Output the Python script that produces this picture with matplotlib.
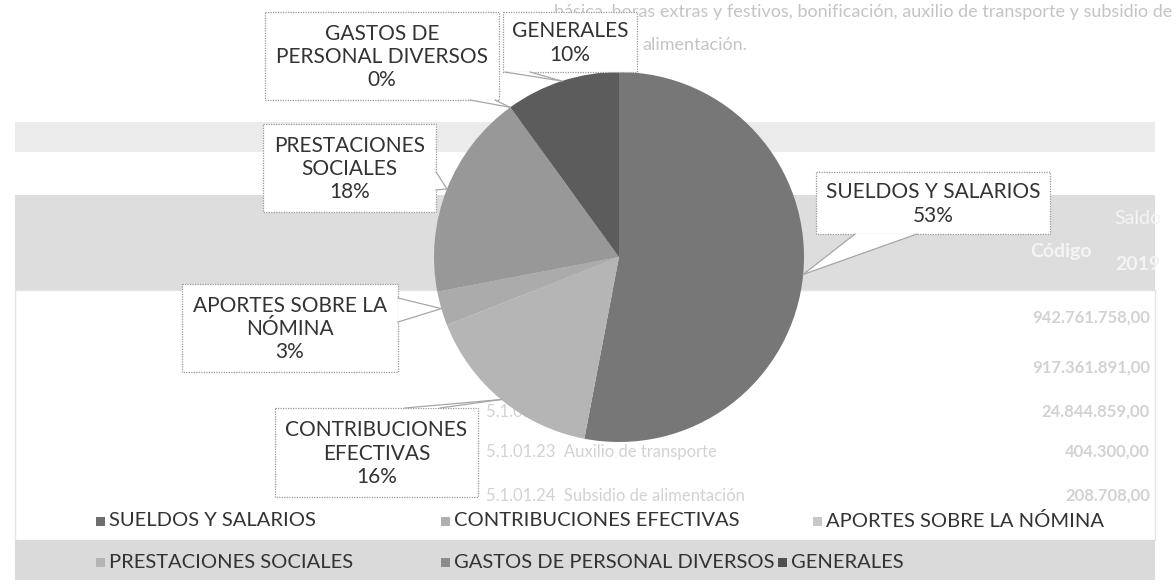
import numpy as np
import matplotlib.pyplot as plt
from matplotlib.patches import Rectangle, Polygon

plt.rcParams['font.family'] = ['Lato', 'DejaVu Sans']

# Gastos de personal por grupo (%)
grupos = ['SUELDOS Y SALARIOS', 'CONTRIBUCIONES EFECTIVAS', 'APORTES SOBRE LA NÓMINA',
          'PRESTACIONES SOCIALES', 'GASTOS DE PERSONAL DIVERSOS', 'GENERALES']
porcentajes = [53, 16, 3, 18, 0, 10]
etiquetas = ['SUELDOS Y SALARIOS', 'CONTRIBUCIONES\nEFECTIVAS', 'APORTES SOBRE LA\nNÓMINA',
             'PRESTACIONES\nSOCIALES', 'GASTOS DE\nPERSONAL DIVERSOS', 'GENERALES']
colores = ['#777777', '#b5b5b5', '#ababab', '#989898', '#828282', '#5c5c5c']
colores_leyenda = ['#6e6e6e', '#b0b0b0', '#c8c8c8', '#b4b4b4', '#8c8c8c', '#505050']

# cajas de las etiquetas (x0, y0, x1, y1) y base de la flecha, en pixeles
cajas = [(816, 172, 1050, 234), (275, 408, 478, 497), (182, 284, 398, 372),
         (263, 124, 436, 212), (265, 12, 499, 100), (503, 12, 637, 72)]
bases = [((855, 234), (917, 234)), ((405, 408), (440, 408)), ((398, 298), (398, 322)),
         ((436, 172), (436, 190)), ((470, 100), (495, 100)), ((505, 72), (530, 72))]
pos_leyenda = [(100, 521), (445, 521), (817, 521), (100, 562), (445, 562), (782, 562)]

W, H = 1176, 585
fig = plt.figure(figsize=(W / 100, H / 100), dpi=100)

# fondo: la pagina escaneada que queda detras del grafico
bg = fig.add_axes([0, 0, 1, 1], zorder=0)
bg.set_xlim(0, W)
bg.set_ylim(H, 0)
bg.axis('off')
gris_txt = '#c4c4c4'
bg.text(1172, 12, 'básica, horas extras y festivos, bonificación, auxilio de transporte y subsidio de',
        ha='right', va='center', fontsize=13, color=gris_txt)
bg.text(642, 45, 'alimentación.', ha='left', va='center', fontsize=13, color=gris_txt)
bg.add_patch(Rectangle((15, 122), 1140, 30, facecolor='#ebebeb', edgecolor='none'))
bg.add_patch(Rectangle((15, 195), 1140, 95, facecolor='#dddddd', edgecolor='none'))
bg.text(1030, 252, 'Código', ha='left', va='center', fontsize=14, color='#f4f4f4', fontweight='bold')
bg.text(1138, 218, 'Saldo', ha='center', va='center', fontsize=14, color='#f4f4f4')
bg.text(1138, 264, '2019', ha='center', va='center', fontsize=14, color='#f4f4f4', fontweight='bold')
bg.add_patch(Rectangle((15, 290), 1140, 250, facecolor='none', edgecolor='#e4e4e4', lw=1))
filas = [('5.1.01  SUELDOS Y SALARIOS', '942.761.758,00', 318),
         ('5.1.01.01  Sueldos', '917.361.891,00', 368),
         ('5.1.01.10  Prima técnica', '24.844.859,00', 412),
         ('5.1.01.23  Auxilio de transporte', '404.300,00', 452),
         ('5.1.01.24  Subsidio de alimentación', '208.708,00', 496)]
for nombre, saldo, y in filas:
    bg.text(486, y, nombre, ha='left', va='center', fontsize=12, color='#d2d2d2')
    bg.text(1150, y, saldo, ha='right', va='center', fontsize=12, color='#d2d2d2', fontweight='bold')
bg.add_patch(Rectangle((15, 540), 1140, 40, facecolor='#dadada', edgecolor='none'))

# torta
r_px = 185
cx, cy = 619, 257
ax = fig.add_axes([(cx - r_px) / W, (H - cy - r_px) / H, 2 * r_px / W, 2 * r_px / H], zorder=1)
wedges, _ = ax.pie(porcentajes, colors=colores, startangle=90, counterclock=False,
                   radius=1, wedgeprops=dict(linewidth=0))
ax.set_xlim(-1, 1)
ax.set_ylim(-1, 1)
ax.set_aspect('equal')
ax.axis('off')

# etiquetas con cajas tipo globo
top = fig.add_axes([0, 0, 1, 1], zorder=2)
top.set_xlim(0, W)
top.set_ylim(H, 0)
top.axis('off')
for w, nombre, p, caja, base in zip(wedges, etiquetas, porcentajes, cajas, bases):
    ang = np.deg2rad((w.theta1 + w.theta2) / 2)
    disp = ax.transData.transform((np.cos(ang), np.sin(ang)))
    tx, ty = top.transData.inverted().transform(disp)
    x0, y0, x1, y1 = caja
    top.add_patch(Rectangle((x0, y0), x1 - x0, y1 - y0, facecolor='white',
                            edgecolor='#9a9a9a', lw=0.9, linestyle=(0, (1, 1))))
    top.add_patch(Polygon([base[0], (tx, ty), base[1]], closed=True,
                          facecolor='white', edgecolor='none'))
    for b in base:
        top.plot([b[0], tx], [b[1], ty], color='#a6a6a6', lw=0.9)
    top.text((x0 + x1) / 2, (y0 + y1) / 2 + 1, f'{nombre}\n{p}%', ha='center', va='center',
             fontsize=15, color='#333333', linespacing=1.2)

# leyenda
for g, c, (lx, ly) in zip(grupos, colores_leyenda, pos_leyenda):
    top.add_patch(Rectangle((lx - 4.5, ly - 4.5), 9, 9, facecolor=c, edgecolor='none'))
    top.text(lx + 9, ly, g, ha='left', va='center', fontsize=14.5, color='#333333')

fig.savefig('out.png', dpi=100)
